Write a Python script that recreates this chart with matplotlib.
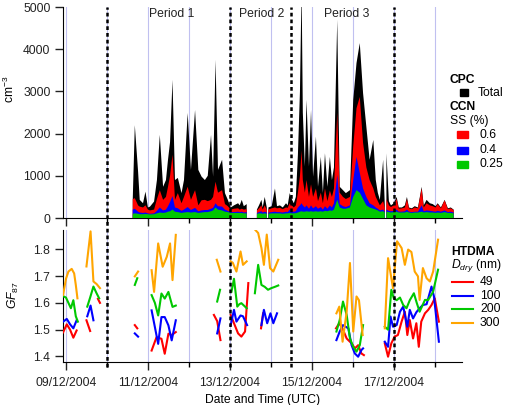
import numpy as np
import matplotlib
matplotlib.use('Agg')
import matplotlib.pyplot as plt
from matplotlib.lines import Line2D
from matplotlib.patches import Rectangle
import matplotlib.transforms as mtransforms

plt.rcParams['font.family'] = ['Liberation Sans', 'DejaVu Sans']
plt.rcParams['font.size'] = 8.7
plt.rcParams['mathtext.fontset'] = 'custom'
plt.rcParams['mathtext.rm'] = 'Liberation Sans'
plt.rcParams['mathtext.it'] = 'Liberation Sans:italic'

# time in days of December 2004 (UTC), nan = gap in the record
t_cn = [10.63, 10.68, 10.76, 10.80, 10.88, 10.94, 11.00, 11.05, 11.15, 11.22,
        11.29, 11.37, 11.44, 11.49, 11.54, 11.60, 11.66, 11.73, 11.82, 11.88,
        11.97, 12.05, 12.15, 12.23, 12.31, 12.39, 12.46, 12.54, 12.59, 12.65,
        12.71, 12.81, 12.88, 12.95, 13.02, 13.10, 13.20, 13.24, 13.29, 13.34,
        13.41, 13.53,
        13.66, 13.71, 13.77, 13.80, 13.85, 13.90, 13.92, 13.94, 14.02, 14.10,
        14.15, 14.22, 14.29, 14.37, 14.41, 14.46, 14.51, 14.56, 14.61, 14.66,
        14.71, 14.75, 14.78, 14.83, 14.87, 14.93, 14.98, 15.03, 15.10, 15.15,
        15.22, 15.27, 15.32, 15.38, 15.44, 15.49, 15.54, 15.62, 15.68, 15.76,
        15.83, 15.93, 16.01, 16.09, 16.17, 16.25, 16.33, 16.41, 16.50, 16.56,
        16.61, 16.66, 16.74, 16.78, 16.80, 16.82, 16.88, 16.93, 17.00, 17.07,
        17.12, 17.20, 17.27, 17.32, 17.37, 17.44, 17.51, 17.59, 17.68, 17.73,
        17.80, 17.88, 17.95, 18.02, 18.07, 18.15, 18.24, 18.32, 18.39, 18.46]
cpc_total = [450, 2200, 1100, 430, 350, 625, 250, 270, 390, 900,
             1970, 740, 900, 1380, 1800, 3275, 900, 950, 590, 900,
             2490, 1140, 2560, 1140, 980, 900, 1000, 1970, 980, 3750,
             1140, 1380, 590, 430, 250, 300, 350, 300, 430, 280,
             330, np.nan,
             200, 300, 430, 250, 500, 250, np.nan, 250, 280, 700,
             280, 300, 250, 350, 300, 590, 450, 350, 500, 1500,
             3000, 5500, 2500, 1220, 2800, 1220, 2560, 980, 1930, 740,
             1450, 593, 1535, 740, 1450, 900, 1200, 4700, 740, 660,
             590, 660, 2800, 3670, 4145, 2960, 2165, 1380, 1850, 900,
             600, 430, 1380, 300, np.nan, 1535, 400, 300, 350, 500,
             250, 250, 300, 500, 250, 230, 280, 250, 740, 300,
             430, 350, 330, 280, 350, 250, 430, 230, 250, 200]
ccn_06 = [450, 470, 300, 270, 250, 300, 200, 180, 200, 450,
          660, 430, 500, 740, 1000, 1500, 430, 590, 350, 500,
          740, 430, 660, 300, 420, 430, 400, 430, 500, 860,
          600, 660, 330, 280, 200, 220, 230, 200, 220, 200,
          210, np.nan,
          180, 230, 300, 200, 300, 190, np.nan, 200, 230, 250,
          230, 240, 210, 250, 240, 350, 300, 250, 300, 600,
          1000, 1600, 900, 600, 900, 500, 800, 500, 700, 400,
          600, 350, 700, 400, 650, 500, 700, 2500, 600, 500,
          450, 500, 1700, 2600, 2870, 1780, 1200, 900, 700, 500,
          400, 300, 400, 250, np.nan, 450, 300, 260, 300, 450,
          220, 230, 250, 450, 230, 210, 250, 230, 700, 250,
          350, 300, 280, 250, 330, 230, 420, 210, 230, 190]
ccn_04 = [200, 220, 150, 130, 120, 130, 110, 100, 110, 170,
          250, 180, 200, 280, 380, 520, 250, 230, 170, 200,
          260, 190, 240, 160, 180, 190, 190, 220, 240, 350,
          280, 270, 200, 170, 140, 140, 150, 140, 150, 130,
          140, np.nan,
          120, 140, 160, 130, 150, 130, np.nan, 130, 140, 150,
          140, 140, 130, 150, 140, 200, 160, 150, 160, 250,
          300, 350, 300, 250, 300, 220, 300, 230, 280, 220,
          260, 200, 280, 220, 300, 250, 350, 1020, 330, 280,
          260, 300, 900, 1450, 1070, 700, 500, 350, 300, 250,
          220, 180, 200, 150, np.nan, 200, 170, 160, 170, 200,
          150, 150, 160, 200, 150, 140, 150, 150, 300, 160,
          180, 170, 160, 150, 170, 150, 180, 140, 150, 130]
ccn_025 = [100, 110, 100, 90, 90, 95, 90, 85, 90, 110,
           130, 120, 130, 150, 160, 200, 150, 140, 120, 130,
           140, 130, 140, 120, 130, 140, 140, 160, 180, 250,
           200, 180, 150, 140, 120, 120, 120, 120, 120, 110,
           110, np.nan,
           100, 110, 110, 100, 110, 100, np.nan, 100, 110, 110,
           110, 110, 100, 110, 110, 120, 110, 110, 115, 130,
           150, 160, 150, 150, 160, 150, 160, 150, 160, 150,
           160, 150, 170, 160, 180, 170, 200, 430, 250, 220,
           220, 250, 500, 660, 600, 450, 300, 250, 220, 200,
           180, 150, 160, 130, np.nan, 150, 140, 130, 140, 150,
           130, 130, 130, 150, 130, 120, 130, 130, 150, 130,
           140, 130, 130, 120, 130, 120, 140, 120, 120, 110]

# HTDMA growth factors at 87% RH
t_49 = [8.93, 9.02, 9.10, 9.18, 9.26, np.nan, 9.50, 9.59, np.nan, 9.78, 9.83, np.nan,
        10.68, 10.74, np.nan, 11.09, 11.21, 11.33, 11.41, 11.50, 11.58, 11.68, np.nan,
        12.61, 12.69, 12.77, np.nan, 13.02, 13.10, 13.20, 13.28, 13.37, 13.45, np.nan,
        13.76, 13.81, np.nan, 15.59, 15.67, 15.76, 15.85, 15.97, 16.05, 16.13, 16.21, 16.27, np.nan,
        16.78, 16.86, 16.94, 17.02, 17.10, 17.19, 17.27, 17.33, 17.39, 17.47, 17.55, 17.61,
        17.67, 17.76, 17.84, 17.92, 18.00, 18.10]
gf_49 = [1.49, 1.52, 1.50, 1.47, 1.497, np.nan, 1.535, 1.495, np.nan, 1.615, 1.60, np.nan,
         1.517, 1.505, np.nan, 1.422, 1.472, 1.466, 1.410, 1.485, 1.48, 1.491, np.nan,
         1.555, 1.532, 1.461, np.nan, 1.555, 1.524, 1.486, 1.474, 1.493, 1.674, np.nan,
         1.505, 1.561, np.nan, 1.505, 1.524, 1.50, 1.467, 1.449, 1.430, 1.442, 1.411, 1.405, np.nan,
         1.449, 1.399, 1.449, 1.474, 1.48, 1.530, 1.567, 1.48, 1.536, 1.467, 1.524, 1.436,
         1.530, 1.561, 1.574, 1.592, 1.617, 1.530]
t_100 = [8.93, 9.02, 9.10, 9.18, 9.26, np.nan, 9.52, 9.60, 9.67, np.nan,
         10.68, 10.76, np.nan, 11.09, 11.25, 11.33, 11.41, 11.50, 11.58, 11.68, np.nan,
         12.69, 12.77, np.nan, 13.02, 13.10, 13.16, 13.26, 13.32, 13.42, np.nan,
         13.77, 13.83, 13.91, 13.99, 14.06, 14.15, np.nan,
         15.60, 15.68, 15.76, 15.89, 15.97, 16.05, 16.13, 16.21, 16.25, np.nan,
         16.78, 16.86, 16.92, 16.98, 17.07, 17.15, 17.23, 17.33, 17.39, 17.47, 17.55,
         17.63, 17.71, 17.80, 17.92, 17.98, 18.10]
gf_100 = [1.53, 1.54, 1.52, 1.505, 1.535, np.nan, 1.55, 1.59, 1.535, np.nan,
          1.486, 1.474, np.nan, 1.572, 1.447, 1.547, 1.547, 1.516, 1.460, 1.535, np.nan,
          1.486, 1.542, np.nan, 1.517, 1.574, 1.530, 1.553, 1.55, 1.517, np.nan,
          1.517, 1.574, 1.524, 1.561, 1.524, 1.561, np.nan,
          1.461, 1.493, 1.517, 1.505, 1.442, 1.411, 1.399, 1.424, 1.43, np.nan,
          1.455, 1.436, 1.549, 1.511, 1.517, 1.567, 1.586, 1.511, 1.574, 1.542, 1.565,
          1.58, 1.592, 1.595, 1.661, 1.624, 1.455]
t_200 = [8.93, 9.00, 9.06, 9.12, 9.18, 9.24, 9.29, np.nan, 9.52, 9.59, 9.67, 9.75, 9.81, np.nan,
         10.68, 10.74, np.nan, 11.09, 11.17, 11.25, 11.33, 11.41, 11.50, 11.60, 11.68, np.nan,
         12.69, 12.76, np.nan, 13.04, 13.10, 13.18, 13.23, 13.28, 13.37, 13.41, np.nan,
         13.61, 13.69, 13.77, 13.85, 13.93, 14.01, 14.10, 14.18, np.nan,
         15.60, 15.68, 15.76, 15.85, 15.93, 16.01, 16.09, 16.17, 16.25, np.nan,
         16.78, 16.86, 16.94, 17.00, 17.07, 17.15, 17.23, 17.31, 17.39, 17.49, 17.56,
         17.63, 17.76, 17.84, 17.96, 18.08]
gf_200 = [1.625, 1.62, 1.60, 1.58, 1.61, 1.55, 1.53, np.nan, 1.586, 1.62, 1.661, 1.635, 1.617, np.nan,
          1.667, 1.692, np.nan, 1.629, 1.60, 1.553, 1.635, 1.616, 1.641, 1.585, 1.59, np.nan,
          1.605, 1.649, np.nan, 1.642, 1.69, 1.586, 1.595, 1.599, 1.586, 1.58, np.nan,
          1.636, 1.742, 1.667, 1.66, 1.649, 1.655, 1.66, 1.665, np.nan,
          1.493, 1.536, 1.605, 1.555, 1.467, 1.436, 1.418, 1.442, 1.517, np.nan,
          1.511, 1.50, 1.649, 1.617, 1.61, 1.62, 1.592, 1.58, 1.61, 1.636, 1.60,
          1.567, 1.611, 1.611, 1.642, 1.724]
t_300 = [8.93, 9.00, 9.06, 9.14, 9.20, 9.24, 9.28, np.nan, 9.50, 9.60, 9.67, 9.75, 9.83, np.nan,
         10.68, 10.76, np.nan, 11.09, 11.15, 11.25, 11.36, 11.46, 11.54, 11.60, 11.68, np.nan,
         12.68, 12.77, np.nan, 13.02, 13.07, 13.16, 13.26, 13.32, 13.41, np.nan,
         13.61, 13.69, 13.77, 13.83, 13.90, 13.98, 14.06, 14.18, np.nan,
         15.60, 15.67, 15.75, 15.85, 15.93, 16.01, 16.09, 16.15, 16.24, np.nan,
         16.78, 16.86, 16.98, 17.08, 17.19, 17.27, 17.35, 17.43, 17.51, 17.59, 17.63,
         17.71, 17.80, 17.88, 17.96, 18.08]
gf_300 = [1.63, 1.69, 1.717, 1.727, 1.71, 1.667, 1.617, np.nan, 1.736, 1.867, 1.68, 1.67, 1.655, np.nan,
          1.699, 1.717, np.nan, 1.722, 1.641, 1.822, 1.735, 1.772, 1.822, 1.685, 1.854, np.nan,
          1.761, 1.717, np.nan, 1.755, 1.75, 1.717, 1.792, 1.742, 1.755, np.nan,
          1.874, 1.861, 1.805, 1.742, 1.855, 1.730, 1.717, 1.761, np.nan,
          1.561, 1.586, 1.455, 1.567, 1.749, 1.493, 1.624, 1.61, 1.48, np.nan,
          1.505, 1.767, 1.655, 1.830, 1.805, 1.742, 1.799, 1.79, 1.717, 1.699, 1.611,
          1.730, 1.692, 1.680, 1.717, 1.836]

tick_days = [9, 11, 13, 15, 17]
tick_labels = ['09/12/2004', '11/12/2004', '13/12/2004', '15/12/2004', '17/12/2004']
period_breaks = [10.0, 13.0, 14.5, 17.0]
period_names = ['Period 1', 'Period 2', 'Period 3']
period_centres = [11.59, 13.78, 15.85]

c_red, c_blue, c_green, c_orange = '#ff0000', '#0000ff', '#00c800', '#ffa500'

fig = plt.figure(figsize=(5.12, 4.05), dpi=100)
ax1 = fig.add_axes([0.123, 0.4617, 0.779, 0.521])
ax2 = fig.add_axes([0.123, 0.106, 0.779, 0.326])

for ax in (ax1, ax2):
    ax.set_xlim(8.927, 18.66)
    for d in range(9, 19):
        ax.axvline(d, color='#c0c0f0', lw=0.8, zorder=0)
    ax.spines['top'].set_visible(False)
    ax.spines['right'].set_visible(False)
    ax.set_xticks(tick_days)
    ax.set_xticks(range(10, 19, 2), minor=True)
    ax.tick_params(axis='both', which='major', direction='out', length=5.5, width=1, colors='#222222')
    ax.tick_params(axis='x', which='major', pad=5)
    ax.tick_params(axis='x', which='minor', direction='out', length=3.5, width=1)

# CPC / CCN concentrations
t = np.array(t_cn)
ax1.fill_between(t, 0, cpc_total, color='black', lw=0, zorder=2)
ax1.fill_between(t, 0, ccn_06, color=c_red, lw=0, zorder=3)
ax1.fill_between(t, 0, ccn_04, color=c_blue, lw=0, zorder=4)
ax1.fill_between(t, 0, ccn_025, color=c_green, lw=0, zorder=5)
ax1.set_ylim(0, 5000)
ax1.set_yticks([0, 1000, 2000, 3000, 4000, 5000])
ax1.tick_params(axis='x', labelbottom=False)
ax1.set_ylabel('cm$^{-3}$')
ax1.yaxis.set_label_coords(-0.116, 0.61)
for name, c in zip(period_names, period_centres):
    ax1.text(c, 4840, name, ha='center', va='center', color='#222222')

# growth factors
ax2.plot(t_49, gf_49, color=c_red, lw=1.5, zorder=3)
ax2.plot(t_100, gf_100, color=c_blue, lw=1.5, zorder=3)
ax2.plot(t_200, gf_200, color=c_green, lw=1.5, zorder=3)
ax2.plot(t_300, gf_300, color=c_orange, lw=1.5, zorder=3)
ax2.set_ylim(1.379, 1.872)
ax2.set_yticks([1.4, 1.5, 1.6, 1.7, 1.8])
ax2.set_xticklabels(tick_labels)
ax2.set_xlabel('Date and Time (UTC)', labelpad=4)
ax2.set_ylabel('$GF_{87}$')
ax2.yaxis.set_label_coords(-0.106, 0.51)

# dashed period separators across both panels
trans = mtransforms.blended_transform_factory(ax1.transData, fig.transFigure)
for b in period_breaks:
    fig.add_artist(Line2D([b, b], [1 - 367 / 405, 1 - 7 / 405], transform=trans,
                          color='black', lw=1.8, dashes=(1.5, 1.2), zorder=10))

# legends
def fx(px):
    return px / 512

def fy(py):
    return 1 - py / 405

fig.text(fx(450), fy(80), 'CPC', weight='bold', va='center')
fig.add_artist(Rectangle((fx(460), fy(96)), 8 / 512, 7 / 405, color='black', transform=fig.transFigure))
fig.text(fx(478), fy(93), 'Total', va='center')
fig.text(fx(450), fy(107), 'CCN', weight='bold', va='center')
fig.text(fx(450), fy(121), 'SS (%)', va='center')
for py, c, lab in [(135, c_red, '0.6'), (150, c_blue, '0.4'), (164, c_green, '0.25')]:
    fig.add_artist(Rectangle((fx(457), fy(py + 3.5)), 11 / 512, 7 / 405, color=c, transform=fig.transFigure))
    fig.text(fx(479), fy(py), lab, va='center')

fig.text(fx(451), fy(252), 'HTDMA', weight='bold', va='center')
fig.text(fx(451), fy(266), '$D_{dry}$ (nm)', va='center')
for py, c, lab in [(282, c_red, '49'), (296, c_blue, '100'), (309, c_green, '200'), (323, c_orange, '300')]:
    fig.add_artist(Line2D([fx(452), fx(473)], [fy(py), fy(py)], color=c, lw=1.5, transform=fig.transFigure))
    fig.text(fx(480), fy(py), lab, va='center')

fig.savefig('out.png', dpi=100)
